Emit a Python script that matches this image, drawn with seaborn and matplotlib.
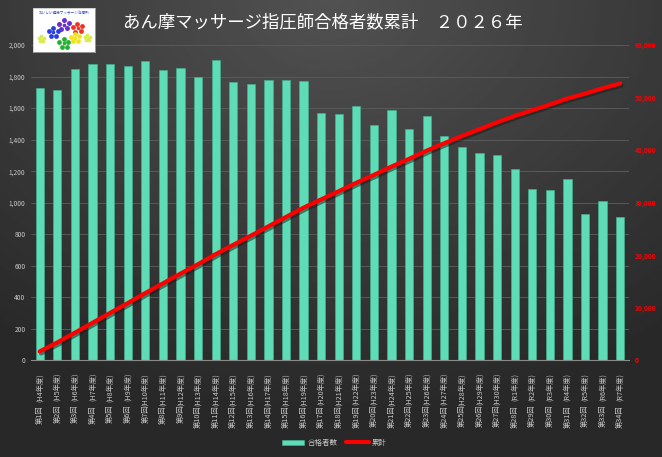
import numpy as np
import pandas as pd
import matplotlib
matplotlib.use('Agg')
import matplotlib.pyplot as plt
import matplotlib.transforms as mtransforms
import matplotlib.patheffects as pe
from matplotlib.patches import Patch
from matplotlib.lines import Line2D
from matplotlib.ticker import MultipleLocator, FuncFormatter
import seaborn as sns

#%% data
kai = ['第1回', '第2回', '第3回', '第4回', '第5回', '第6回', '第7回', '第8回', '第9回',
       '第10回', '第11回', '第12回', '第13回', '第14回', '第15回', '第16回', '第17回',
       '第18回', '第19回', '第20回', '第21回', '第22回', '第23回', '第24回', '第25回',
       '第26回', '第27回', '第28回', '第29回', '第30回', '第31回', '第32回', '第33回', '第34回']
nendo = ['(H4年度)', '(H5年度)', '(H6年度)', '(H7年度)', '(H8年度)', '(H9年度)', '(H10年度)',
         '(H11年度)', '(H12年度)', '(H13年度)', '(H14年度)', '(H15年度)', '(H16年度)',
         '(H17年度)', '(H18年度)', '(H19年度)', '(H20年度)', '(H21年度)', '(H22年度)',
         '(H23年度)', '(H24年度)', '(H25年度)', '(H26年度)', '(H27年度)', '(H28年度)',
         '(H29年度)', '(H30年度)', '(R1年度)', '(R2年度)', '(R3年度)', '(R4年度)',
         '(R5年度)', '(R6年度)', '(R7年度)']
passers = [1725, 1713, 1850, 1880, 1878, 1867, 1901, 1843, 1856, 1797, 1905, 1767,
           1751, 1780, 1776, 1774, 1567, 1563, 1611, 1493, 1586, 1466, 1550, 1423,
           1355, 1313, 1301, 1212, 1089, 1081, 1149, 931, 1013, 910]
total = [1725, 3438, 5288, 7168, 9046, 10913, 12814, 14657, 16513, 18310, 20215, 21982,
         23733, 25513, 27289, 29063, 30630, 32193, 33804, 35297, 36883, 38349, 39899,
         41322, 42677, 43990, 45291, 46503, 47592, 48673, 49822, 50753, 51766, 52676]

title = 'あん摩マッサージ指圧師合格者数累計　２０２６年'

df = pd.DataFrame({'kai': kai, 'nendo': nendo, 'passers': passers, 'total': total})
df['pos'] = np.arange(len(df))

bar_color = '#5ddcb6'
label_grey = '#c8c8c8'

#%% style
sns.set_theme(style='dark')
plt.rcParams['font.family'] = ['Noto Sans CJK JP', 'DejaVu Sans']

fig = plt.figure(figsize=(6.62, 4.57), dpi=100)
fig.patch.set_facecolor('#333333')

# dark radial background, lighter at the top centre
bg = fig.add_axes([0, 0, 1, 1], zorder=-10)
yy, xx = np.mgrid[0:1:230j, 0:1:330j]
r = np.sqrt(((xx - 0.5) * 1.2) ** 2 + (yy * 1.1) ** 2)
shade = 0.32 - 0.16 * np.clip(r, 0, 1)
bg.imshow(shade, cmap='gray', vmin=0, vmax=1, aspect='auto', origin='upper',
          extent=[0, 1, 0, 1])
bg.axis('off')

#%% bars
ax = fig.add_axes([0.0468, 0.2112, 0.9033, 0.6903])
ax.patch.set_alpha(0)
sns.barplot(data=df, x='pos', y='passers', ax=ax, color=bar_color, saturation=1,
            width=0.47, edgecolor='#46b493', linewidth=0.4)
ax.set_ylim(0, 2000)
ax.yaxis.set_major_locator(MultipleLocator(200))
ax.yaxis.set_major_formatter(FuncFormatter(lambda v, p: f'{int(v):,}'))
ax.grid(axis='y', color='#595959', lw=0.7)
ax.grid(axis='x', visible=False)
ax.set_axisbelow(True)
for s in ['top', 'right', 'left']:
    ax.spines[s].set_visible(False)
ax.spines['bottom'].set_color('#8a8a8a')
ax.spines['bottom'].set_linewidth(0.8)
ax.set_xlabel('')
ax.set_ylabel('')
ax.tick_params(axis='y', length=0, pad=4, labelsize=4.8, labelcolor=label_grey)
ax.set_xticks(df['pos'])
ax.set_xticklabels(df['nendo'], rotation=90, va='top', fontsize=5.2, color=label_grey)
ax.tick_params(axis='x', length=0, pad=9)

trans = mtransforms.blended_transform_factory(ax.transData, ax.transAxes)
for i, k in zip(df['pos'], df['kai']):
    ax.text(i, -0.141, k, rotation=90, ha='center', va='top', fontsize=5.2,
            color=label_grey, transform=trans)

#%% cumulative line
ax2 = ax.twinx()
sns.lineplot(data=df, x='pos', y='total', ax=ax2, color='#ff0000', lw=3,
             path_effects=[pe.SimpleLineShadow(offset=(1, -1.5), alpha=0.5), pe.Normal()])
ax2.set_ylim(0, 60000)
ax2.yaxis.set_major_locator(MultipleLocator(10000))
ax2.yaxis.set_major_formatter(FuncFormatter(lambda v, p: f'{int(v):,}'))
ax2.tick_params(axis='y', length=0, pad=4, labelsize=4.8, labelcolor='#ff0000')
for t in ax2.get_yticklabels():
    t.set_fontweight('bold')
ax2.grid(False)
for s in ax2.spines.values():
    s.set_visible(False)
ax2.set_ylabel('')
ax.set_xlim(-0.5, 33.5)

#%% title
fig.text(0.487, 0.952, title, color='white', fontsize=12.5, ha='center', va='center')

#%% logo
logo = fig.add_axes([0.0498, 0.886, 0.0937, 0.0963])
logo.set_facecolor('white')
logo.set_xlim(0, 1)
logo.set_ylim(0, 1)
logo.set_xticks([])
logo.set_yticks([])
for s in logo.spines.values():
    s.set_color('#bbbbbb')
    s.set_linewidth(0.5)
flowers = [(0.5, 0.62, '#6a2fd0', 0.08), (0.72, 0.55, '#ee3322', 0.075),
           (0.33, 0.45, '#2a3ee0', 0.075), (0.68, 0.33, '#f2e21a', 0.07),
           (0.5, 0.2, '#22b030', 0.075), (0.14, 0.3, '#d8ec50', 0.045),
           (0.88, 0.33, '#d8ec50', 0.045)]
ang = np.linspace(0, 2 * np.pi, 5, endpoint=False) + 0.4
for fx, fy, fc, rr in flowers:
    logo.scatter(fx + rr * np.cos(ang), fy + rr * np.sin(ang) * 1.3, s=rr * 160,
                 color=fc, lw=0)
    logo.scatter([fx], [fy], s=rr * 90, color=fc, lw=0)
logo.text(0.5, 0.88, 'おいしい健康マッサージ治療所', fontsize=2.6, color='#3050c0',
          ha='center', va='center')

#%% legend
handles = [Patch(facecolor=bar_color, edgecolor='#46b493', lw=0.4),
           Line2D([0], [0], color='#ff0000', lw=3)]
fig.legend(handles, ['合格者数', '累計'], loc='center', bbox_to_anchor=(0.505, 0.031),
           ncol=2, frameon=False, fontsize=5.4, labelcolor=label_grey,
           handlelength=3, handleheight=0.6, columnspacing=1.2, handletextpad=0.4)

plt.savefig('out.png', dpi=100)
